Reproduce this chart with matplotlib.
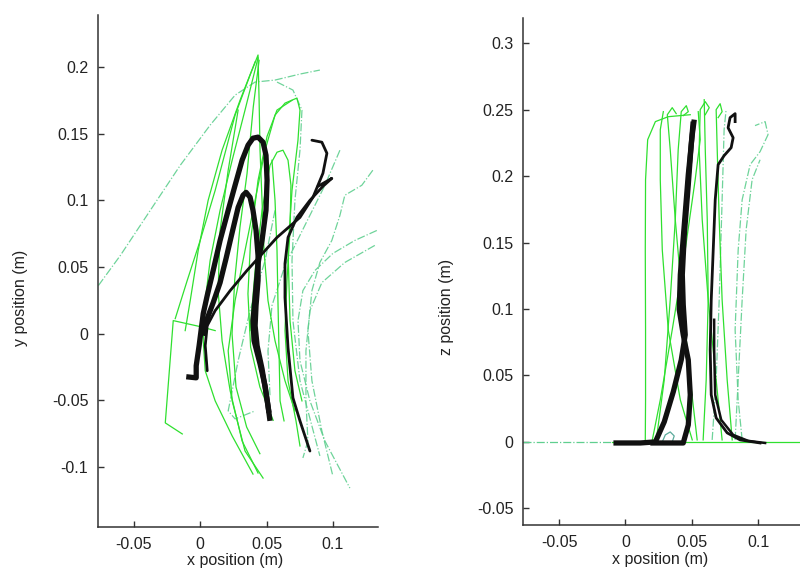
import matplotlib
matplotlib.use("Agg")
import matplotlib.pyplot as plt
from matplotlib.ticker import FuncFormatter

plt.rcParams['font.family'] = ['Liberation Sans', 'DejaVu Sans']
plt.rcParams['axes.unicode_minus'] = False

# ---------------- LEFT PLOT (x vs y) ----------------
# thick black trajectories
xy_t1_x = [-0.0105, -0.003, -0.003, -0.0008, 0.0023, 0.0053, 0.0098, 0.015, 0.0211, 0.0263, 0.0316, 0.0361, 0.0398,
           0.0436, 0.0474, 0.0496, 0.0504, 0.0496, 0.0466, 0.0436, 0.0414, 0.0398, 0.0406, 0.0451, 0.0489, 0.0511, 0.0526]
xy_t1_y = [-0.0323, -0.0331, -0.0241, -0.009, 0.015, 0.0286, 0.0474, 0.0699, 0.0925, 0.1113, 0.1301, 0.1414, 0.1466,
           0.1474, 0.1436, 0.1338, 0.115, 0.0925, 0.0699, 0.0526, 0.0271, 0.0098, -0.0053, -0.0226, -0.0391, -0.0541, -0.0654]
xy_t2_x = [0.0023, 0.0053, 0.0098, 0.015, 0.0195, 0.0241, 0.0286, 0.0323, 0.0346, 0.0376, 0.0398, 0.0421, 0.0436,
           0.0436, 0.0421, 0.0414, 0.0429, 0.0466, 0.0496, 0.0519]
xy_t2_y = [-0.0015, 0.0113, 0.0233, 0.0383, 0.0564, 0.0759, 0.0947, 0.1038, 0.106, 0.1023, 0.0925, 0.0774, 0.0586,
           0.0398, 0.0211, 0.006, -0.009, -0.0263, -0.0444, -0.0594]
# thinner black trajectories
xy_b1_x = [0.0053, 0.0038, 0.0053, 0.0113, 0.0226, 0.0353, 0.0579, 0.0752, 0.085, 0.0925, 0.0955, 0.0917, 0.0842]
xy_b1_y = [-0.0278, -0.009, 0.006, 0.0173, 0.0323, 0.0474, 0.0722, 0.0872, 0.1023, 0.1203, 0.1353, 0.1436, 0.1451]
xy_b2_x = [0.0887, 0.0992, 0.0925, 0.0827, 0.0729, 0.0662, 0.0639, 0.0639, 0.0662, 0.0699, 0.0752, 0.0827]
xy_b2_y = [0.1105, 0.1165, 0.1105, 0.1, 0.0872, 0.0722, 0.0526, 0.0271, -0.0105, -0.0481, -0.0654, -0.088]

# green solid trajectories
xy_g1_x = [-0.0135, -0.0263, -0.0203, 0.0, 0.0113]
xy_g1_y = [-0.0752, -0.0669, 0.0098, 0.0053, 0.0023]
xy_g2_x = [-0.0188, -0.0098, 0.0, 0.0113, 0.0263, 0.0376, 0.0436, 0.0444, 0.0451, 0.0466, 0.0481, 0.0511, 0.0564, 0.0639, 0.0714]
xy_g2_y = [0.0113, 0.0398, 0.0699, 0.1075, 0.1639, 0.194, 0.209, 0.1752, 0.1376, 0.1, 0.0624, 0.0248, -0.0053, -0.0353, -0.0579]
xy_g3_x = [0.0436, 0.0338, 0.0241, 0.015, 0.0075, 0.0038, 0.0023, 0.0038, 0.0113, 0.0241, 0.0398]
xy_g3_y = [0.2068, 0.1677, 0.1301, 0.0925, 0.0549, 0.0248, -0.0053, -0.0278, -0.0504, -0.0767, -0.1053]
xy_g4_x = [0.0474, 0.0338, 0.0241, 0.0211, 0.0263, 0.0338, 0.0414, 0.0489, 0.0564, 0.0639, 0.0729, 0.0752, 0.0737,
           0.0692, 0.0662, 0.0677, 0.0714, 0.0767]
xy_g4_y = [-0.1083, -0.088, -0.0504, -0.0128, 0.0248, 0.0624, 0.1, 0.1376, 0.1639, 0.1729, 0.1767, 0.1677, 0.1451,
           0.1075, 0.0624, 0.0098, -0.0278, -0.0504]
xy_g5_x = [0.0376, 0.0414, 0.0466, 0.0526, 0.0579, 0.0624, 0.0662, 0.0684, 0.0677, 0.0654, 0.0639, 0.0662, 0.0722, 0.0752]
xy_g5_y = [0.0023, 0.0474, 0.0925, 0.1263, 0.1361, 0.1376, 0.1301, 0.1113, 0.0774, 0.0398, 0.0023, -0.0353, -0.0654, -0.0842]
xy_g6_x = [0.0286, 0.0211, 0.015, 0.0135, 0.0165, 0.0226, 0.0316, 0.0436]
xy_g6_y = [0.1677, 0.1226, 0.0774, 0.0323, -0.0053, -0.0429, -0.0805, -0.1045]
xy_g7_x = [0.0414, 0.0301, 0.0165, 0.006, -0.0015, -0.0075, -0.0113]
xy_g7_y = [0.2038, 0.1752, 0.1376, 0.1, 0.0624, 0.0248, 0.0023]
xy_g8_x = [0.0541, 0.0564, 0.0579, 0.0586, 0.0594, 0.0602, 0.0632]
xy_g8_y = [0.1301, 0.1, 0.0624, 0.0248, -0.0128, -0.0504, -0.0654]
xy_g9_x = [0.0444, 0.04, 0.0353, 0.03, 0.026, 0.024, 0.027, 0.035, 0.045]
xy_g9_y = [0.205, 0.17, 0.12, 0.08, 0.04, 0.0, -0.04, -0.07, -0.09]
xy_g10_x = [0.0692, 0.0579, 0.0504, 0.0436, 0.038, 0.036, 0.038, 0.045, 0.055]
xy_g10_y = [0.175, 0.1677, 0.148, 0.115, 0.07, 0.03, -0.01, -0.04, -0.065]

# green dash-dot trajectories
xy_d1_x = [-0.0767, -0.0602, -0.0376, -0.015, 0.0075, 0.0263, 0.0414, 0.0564, 0.0752, 0.0902]
xy_d1_y = [0.0361, 0.0586, 0.0925, 0.1263, 0.1564, 0.1789, 0.1887, 0.1902, 0.1947, 0.1977]
xy_d2_x = [0.0579, 0.0699, 0.0767, 0.0752, 0.0714, 0.0692, 0.0699, 0.0752, 0.0842, 0.0902]
xy_d2_y = [0.1887, 0.1827, 0.1677, 0.1376, 0.1, 0.0549, 0.0098, -0.0353, -0.0692, -0.0917]
xy_d3_x = [0.1331, 0.1165, 0.1, 0.0865, 0.0774, 0.0737, 0.0752, 0.0827, 0.094, 0.1128]
xy_d3_y = [0.0774, 0.0699, 0.0602, 0.0474, 0.0323, 0.0098, -0.0203, -0.0504, -0.0805, -0.1158]
xy_d4_x = [0.1301, 0.1218, 0.109, 0.1053, 0.0992, 0.0902, 0.0842, 0.0812, 0.0842, 0.0917, 0.1]
xy_d4_y = [0.1226, 0.1113, 0.1038, 0.0887, 0.0699, 0.0534, 0.0323, 0.0023, -0.0353, -0.0729, -0.1068]
xy_d5_x = [0.1316, 0.109, 0.0917, 0.0827, 0.0797, 0.0797, 0.0812, 0.0774]
xy_d5_y = [0.0662, 0.0534, 0.0383, 0.0173, -0.0128, -0.0504, -0.0805, -0.0932]
xy_d6_x = [0.0564, 0.0489, 0.0376, 0.0286, 0.0211, 0.0263, 0.0414]
xy_d6_y = [0.0925, 0.0549, 0.0173, -0.0203, -0.0579, -0.0639, -0.0579]
xy_d7_x = [0.1053, 0.094, 0.0789, 0.0639, 0.0541, 0.0511, 0.0526]
xy_d7_y = [0.1376, 0.1113, 0.0812, 0.0511, 0.0211, -0.0128, -0.0466]

# ---------------- RIGHT PLOT (x vs z) ----------------
xz_t1_x = [-0.009, 0.0113, 0.0226, 0.0293, 0.0361, 0.0421, 0.0451, 0.0436, 0.0429, 0.0444, 0.0474, 0.0496, 0.0511]
xz_t1_z = [-0.0008, -0.0008, 0.0, 0.0151, 0.0377, 0.0617, 0.0806, 0.1032, 0.1258, 0.1559, 0.1935, 0.2236, 0.241]
xz_t2_x = [0.0188, 0.0436, 0.0474, 0.0489, 0.0474, 0.0436, 0.0406, 0.0414, 0.0444, 0.0474, 0.0504, 0.0519]
xz_t2_z = [-0.0008, -0.0008, 0.0128, 0.0354, 0.0617, 0.0806, 0.0994, 0.1258, 0.1634, 0.2011, 0.2312, 0.2425]
xz_b1_x = [0.1015, 0.0865, 0.0767, 0.0684, 0.0647, 0.0639, 0.0647, 0.0662, 0.0677, 0.0699, 0.0744, 0.0797, 0.0812,
           0.0774, 0.0789, 0.0827, 0.0827]
xz_b1_z = [-0.0008, 0.0015, 0.0068, 0.0181, 0.0354, 0.0693, 0.1069, 0.1446, 0.1822, 0.2086, 0.2154, 0.2214, 0.2289,
           0.2364, 0.244, 0.247, 0.241]
xz_b2_x = [0.1053, 0.0925, 0.0812, 0.0722, 0.0677, 0.0669, 0.0669]
xz_b2_z = [-0.0008, 0.0008, 0.0053, 0.0166, 0.0354, 0.0693, 0.0919]

xz_base_dash_x = [-0.077, 0.0]
xz_base_solid_x = [-0.01, 0.133]
xz_base_z = [0.0, 0.0]

xz_g1_x = [0.0150, 0.0152, 0.0152, 0.0150, 0.0152, 0.0168, 0.0226, 0.0323, 0.0489]
xz_g1_z = [0.0008, 0.0316, 0.0843, 0.1446, 0.1973, 0.2274, 0.241, 0.2447, 0.2462]
xz_g2_x = [0.0233, 0.0293, 0.0338, 0.0376, 0.0398, 0.0421, 0.0459, 0.0474, 0.0436]
xz_g2_z = [0.0015, 0.0467, 0.1069, 0.1672, 0.2199, 0.2485, 0.253, 0.2485, 0.2455]
xz_g3_x = [0.0541, 0.0489, 0.0429, 0.0376, 0.0338, 0.0316, 0.0353, 0.0383]
xz_g3_z = [0.0015, 0.0467, 0.1069, 0.1672, 0.2199, 0.2462, 0.2515, 0.247]
xz_g4_x = [0.0586, 0.0609, 0.0624, 0.0617, 0.0602, 0.0594]
xz_g4_z = [0.0015, 0.0467, 0.1069, 0.1672, 0.2199, 0.2575]
xz_g5_x = [0.0729, 0.0684, 0.0624, 0.0579, 0.0556, 0.0564, 0.0602, 0.0632, 0.0602]
xz_g5_z = [0.0015, 0.0467, 0.1069, 0.1672, 0.2199, 0.25, 0.256, 0.2515, 0.2462]
xz_g6_x = [0.0805, 0.0767, 0.0729, 0.0707, 0.0692, 0.0684, 0.0714, 0.0729, 0.0699]
xz_g6_z = [0.0015, 0.0467, 0.1069, 0.1672, 0.2199, 0.25, 0.2545, 0.2485, 0.244]
xz_g7_x = [0.0504, 0.0414, 0.0323, 0.0278, 0.0263, 0.0263, 0.0286]
xz_g7_z = [0.0015, 0.0316, 0.0843, 0.1446, 0.1973, 0.2349, 0.2485]
xz_g8_x = [0.0203, 0.0263, 0.0353, 0.0451, 0.0526, 0.0564, 0.0549]
xz_g8_z = [0.0015, 0.0316, 0.0843, 0.1446, 0.1973, 0.2274, 0.2485]

xz_d1_x = [0.088, 0.085, 0.0827, 0.085, 0.088, 0.094, 0.1015, 0.1075, 0.1053, 0.0977]
xz_d1_z = [0.0015, 0.0316, 0.0843, 0.1446, 0.1822, 0.2086, 0.2184, 0.2312, 0.241, 0.238]
xz_d2_x = [0.0827, 0.085, 0.088, 0.091, 0.0955, 0.1015]
xz_d2_z = [0.0015, 0.0467, 0.1069, 0.1596, 0.1973, 0.2123]
xz_d3_x = [0.0654, 0.0684, 0.0707, 0.0729, 0.0744, 0.0759]
xz_d3_z = [0.0015, 0.0467, 0.1069, 0.1822, 0.2349, 0.25]
xz_loop_x = [0.0278, 0.0301, 0.0338, 0.0368, 0.0353]
xz_loop_z = [0.0, 0.0053, 0.0075, 0.0045, 0.0]

left_yticks = [-0.1, -0.05, 0, 0.05, 0.1, 0.15, 0.2]
right_yticks = [-0.05, 0, 0.05, 0.1, 0.15, 0.2, 0.25, 0.3]
xticks = [-0.05, 0, 0.05, 0.1]

GREEN = '#2fe02f'
DASH = '#5fcf8f'
BLACK = '#111111'

fig = plt.figure(figsize=(8, 5.7), dpi=100)

ax1 = fig.add_axes([0.1225, 0.0754, 0.35, 0.8983])
ax2 = fig.add_axes([0.654, 0.079, 0.35, 0.8895])

fmt = FuncFormatter(lambda v, p: '%g' % round(v, 3))

solid_l = [(xy_g1_x, xy_g1_y), (xy_g2_x, xy_g2_y), (xy_g3_x, xy_g3_y), (xy_g4_x, xy_g4_y),
           (xy_g5_x, xy_g5_y), (xy_g6_x, xy_g6_y), (xy_g7_x, xy_g7_y), (xy_g8_x, xy_g8_y),
           (xy_g9_x, xy_g9_y), (xy_g10_x, xy_g10_y)]
dash_l = [(xy_d1_x, xy_d1_y), (xy_d2_x, xy_d2_y), (xy_d3_x, xy_d3_y), (xy_d4_x, xy_d4_y),
          (xy_d5_x, xy_d5_y), (xy_d6_x, xy_d6_y), (xy_d7_x, xy_d7_y)]
for xs, ys in dash_l:
    ax1.plot(xs, ys, color=DASH, lw=0.9, ls='-.', alpha=0.9)
for xs, ys in solid_l:
    ax1.plot(xs, ys, color=GREEN, lw=0.9)
ax1.plot(xy_b1_x, xy_b1_y, color=BLACK, lw=2.0, solid_capstyle='round')
ax1.plot(xy_b2_x, xy_b2_y, color=BLACK, lw=2.0, solid_capstyle='round')
ax1.plot(xy_t1_x, xy_t1_y, color=BLACK, lw=3.8, solid_capstyle='butt')
ax1.plot(xy_t2_x, xy_t2_y, color=BLACK, lw=3.8, solid_capstyle='butt')
ax1.set_xlim(-0.077, 0.134)
ax1.set_ylim(-0.145, 0.239)
ax1.set_yticks(left_yticks)

ax2.plot(xz_base_dash_x, xz_base_z, color=DASH, lw=0.9, ls='-.')
ax2.plot(xz_base_solid_x, xz_base_z, color=GREEN, lw=0.9)
for xs, ys in [(xz_d1_x, xz_d1_z), (xz_d2_x, xz_d2_z), (xz_d3_x, xz_d3_z)]:
    ax2.plot(xs, ys, color=DASH, lw=0.9, ls='-.', alpha=0.9)
for xs, ys in [(xz_g1_x, xz_g1_z), (xz_g2_x, xz_g2_z), (xz_g3_x, xz_g3_z), (xz_g4_x, xz_g4_z),
               (xz_g5_x, xz_g5_z), (xz_g6_x, xz_g6_z), (xz_g7_x, xz_g7_z), (xz_g8_x, xz_g8_z)]:
    ax2.plot(xs, ys, color=GREEN, lw=0.9)
ax2.plot(xz_loop_x, xz_loop_z, color='#5aaa9a', lw=0.9)
ax2.plot(xz_b2_x, xz_b2_z, color=BLACK, lw=1.8)
ax2.plot(xz_b1_x, xz_b1_z, color=BLACK, lw=2.0)
ax2.plot(xz_t1_x, xz_t1_z, color=BLACK, lw=3.8, solid_capstyle='butt')
ax2.plot(xz_t2_x, xz_t2_z, color=BLACK, lw=3.8, solid_capstyle='butt')
ax2.set_xlim(-0.077, 0.134)
ax2.set_ylim(-0.0625, 0.319)
ax2.set_yticks(right_yticks)

for ax, lab, lx, ly, xly in [(ax1, 'y position (m)', -0.25, 0.447, -0.05),
                             (ax2, 'z position (m)', -0.247, 0.43, -0.054)]:
    ax.set_xticks(xticks)
    ax.xaxis.set_major_formatter(fmt)
    ax.yaxis.set_major_formatter(fmt)
    for s in ['top', 'right']:
        ax.spines[s].set_visible(False)
    for s in ['left', 'bottom']:
        ax.spines[s].set_color('#333333')
        ax.spines[s].set_linewidth(1.1)
    ax.tick_params(direction='in', length=4, width=1, colors='#333333', labelsize=11.5,
                   labelcolor='#222222', pad=7)
    ax.set_ylabel(lab, fontsize=11.5, color='#222222')
    ax.yaxis.set_label_coords(lx, ly)
    ax.set_xlabel('x position (m)', fontsize=11.5, color='#222222')
    ax.xaxis.set_label_coords(0.49, xly)
    ax.patch.set_alpha(0)

fig.savefig('out.png', dpi=100)
